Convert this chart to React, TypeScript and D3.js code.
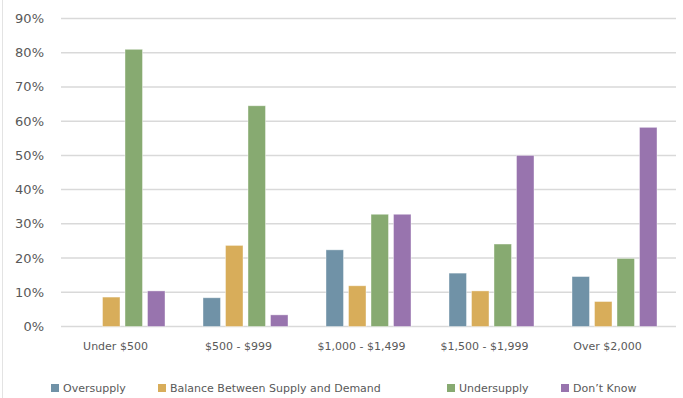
import React from "react";
import * as d3 from "d3";

const categories = ["Under $500", "$500 - $999", "$1,000 - $1,499", "$1,500 - $1,999", "Over $2,000"];
const seriesNames = ["Oversupply", "Balance Between Supply and Demand", "Undersupply", "Don\u2019t Know"];
const oversupply = [0, 0.084, 0.224, 0.156, 0.146];
const balance = [0.086, 0.237, 0.119, 0.104, 0.073];
const undersupply = [0.81, 0.645, 0.328, 0.241, 0.199];
const dontKnow = [0.104, 0.034, 0.328, 0.5, 0.582];
const yTicks = [0, 0.1, 0.2, 0.3, 0.4, 0.5, 0.6, 0.7, 0.8, 0.9];
const colors = ["#7092A7", "#D8AD5A", "#87AA71", "#9874AE"];
const legendX = [51, 158, 447, 561];

export default function App() {
  const W = 683, H = 398;
  const series = [oversupply, balance, undersupply, dontKnow];
  const x = d3.scaleBand<string>().domain(categories).range([61, 676]);
  const x1 = d3.scaleBand<number>().domain([0, 1, 2, 3]).range([19, 104]).paddingInner(0.222);
  const y = d3.scaleLinear().domain([0, 0.9]).range([326.5, 18.5]);
  const font = "'DejaVu Sans', sans-serif";
  return (
    <svg width={W} height={H} style={{ position: "absolute", left: 0, top: 0, background: "#fff" }}>
      <line x1={2.5} x2={2.5} y1={0} y2={H} stroke="#e3e3e3" strokeWidth={1} />
      {yTicks.map((t) => (
        <g key={t}>
          <line x1={61} x2={676} y1={y(t)} y2={y(t)} stroke="#d9d9d9" strokeWidth={1.5} />
          <text x={44} y={y(t)} dy="0.35em" textAnchor="end" fontFamily={font} fontSize={13} fill="#595959">
            {d3.format(".0%")(t)}
          </text>
        </g>
      ))}
      {categories.map((c, i) => (
        <g key={c} transform={`translate(${x(c)},0)`}>
          {series.map((s, j) =>
            s[i] > 0 ? (
              <rect
                key={j}
                x={x1(j)}
                y={y(s[i])}
                width={x1.bandwidth()}
                height={y(0) - y(s[i])}
                fill={colors[j]}
                stroke="#ffffff"
                strokeOpacity={0.5}
                strokeWidth={0.8}
              />
            ) : null
          )}
          <text x={x.bandwidth() / 2 - 7} y={350} textAnchor="middle" fontFamily={font} fontSize={11} fill="#595959">
            {c}
          </text>
        </g>
      ))}
      {seriesNames.map((n, j) => (
        <g key={n}>
          <rect x={legendX[j]} y={384} width={8} height={8} fill={colors[j]} />
          <text x={legendX[j] + 12} y={388} dy="0.35em" fontFamily={font} fontSize={11} fill="#595959">
            {n}
          </text>
        </g>
      ))}
    </svg>
  );
}
